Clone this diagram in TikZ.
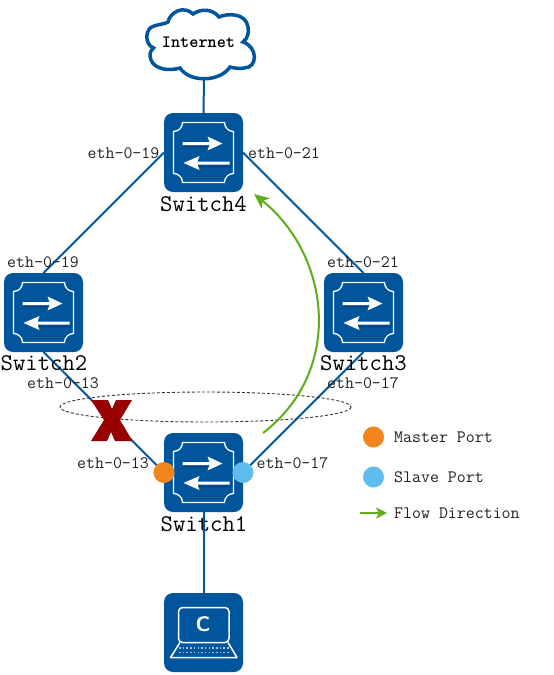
\documentclass[tikz,border=0pt]{standalone}
\usetikzlibrary{arrows.meta}
\definecolor{swblue}{HTML}{01559D}
\definecolor{swdark}{HTML}{0A4688}
\definecolor{flowgreen}{HTML}{5FAD1B}
\definecolor{mport}{HTML}{F2851D}
\definecolor{sport}{HTML}{5FBDEE}
\definecolor{xred}{HTML}{990000}
\definecolor{txt}{HTML}{222222}
\tikzset{
  x=1pt,y=-1pt,
  devbox/.style={fill=swblue,draw=none,rounded corners=9pt,minimum width=79pt,minimum height=79pt,inner sep=0pt,outer sep=0pt},
  link/.style={draw=swblue,line width=2pt},
  portlabel/.style={font=\ttfamily\fontsize{17.4}{20}\selectfont,text=txt,inner sep=0pt},
  swlabel/.style={font=\ttfamily\fontsize{24}{26}\selectfont,text=black,inner sep=0pt},
  legendlabel/.style={font=\ttfamily\fontsize{17.4}{20}\selectfont,text=txt,inner sep=0pt,anchor=west},
  portdot/.style={circle,minimum size=21pt,inner sep=0pt,outer sep=0pt},
  flow/.style={draw=flowgreen,line width=2pt,-{Stealth[length=15pt,width=13pt,inset=4pt]}},
  swicon/.pic={
    \draw[white,line width=1.3pt]
      (-21,-30) -- (21,-30) .. controls (21,-25) and (25,-21) .. (30,-21)
      -- (30,21) .. controls (25,21) and (21,25) .. (21,30)
      -- (-21,30) .. controls (-21,25) and (-25,21) .. (-30,21)
      -- (-30,-21) .. controls (-25,-21) and (-21,-25) .. (-21,-30) -- cycle;
    \fill[swdark] (-19,-7.5) rectangle (10,-4.5);
    \fill[swdark] (-5,12.5) rectangle (28,15.5);
    \fill[white] (-21,-10.5) -- (6,-10.5) -- (4,-16) -- (19,-9) -- (4,-2) -- (6,-7.5) -- (-21,-7.5) -- cycle;
    \fill[white] (26,9) -- (-6,9) -- (-4,3.5) -- (-20,10.5) -- (-4,17.5) -- (-6,12) -- (26,12) -- cycle;
  }
}
\begin{document}
\begin{tikzpicture}
\useasboundingbox (0,0) rectangle (554,675);
\fill[white] (0,0) rectangle (554,675);

% devices
\node[devbox] (s4) at (203.5,152.5) {};
\node[devbox] (s2) at (43.5,312.5) {};
\node[devbox] (s3) at (363.5,312.5) {};
\node[devbox] (s1) at (203.5,472.5) {};
\node[devbox] (pc) at (203.5,632.5) {};
\pic at (s4) {swicon};
\pic at (s2) {swicon};
\pic at (s3) {swicon};
\pic at (s1) {swicon};

% cloud
\coordinate (cloudb) at (204,79);
\draw[swblue,line width=3.5pt,fill=white]
  (153.5,48) .. controls (144,44) and (145,28) .. (154,26)
  .. controls (160,24) and (165,24) .. (168,22)
  .. controls (170,12) and (184,5) .. (193,14)
  .. controls (200,9) and (212,8) .. (219,17)
  .. controls (228,13) and (246,13) .. (248,27)
  .. controls (249,33) and (248,38) .. (243,42)
  .. controls (258,47) and (258,68) .. (244,68)
  .. controls (239,69) and (234,68) .. (230,67)
  .. controls (220,82) and (190,83) .. (180,68)
  .. controls (170,71) and (155,70) .. (151,60)
  .. controls (149,55) and (150,51) .. (153.5,48) -- cycle;
\node[font=\ttfamily\bfseries\fontsize{17.4}{20}\selectfont,inner sep=0pt] (inet) at (198.5,42) {Internet};

% connectors
\draw[link] (cloudb) -- (s4.north);
\draw[link] (s4.west) -- (s2.north);
\draw[link] (s4.east) -- (s3.north);
\draw[link] (s2.south) -- (s1.west);
\draw[link] (s3.south) -- (s1.east);

% labels
\node[portlabel] (l1) at (123.5,153) {eth-0-19};
\node[portlabel] (l2) at (284,153) {eth-0-21};
\node[portlabel] (l3) at (43,262) {eth-0-19};
\node[portlabel] (l4) at (363,262) {eth-0-21};
\node[portlabel] (l5) at (63,383) {eth-0-13};
\node[portlabel] (l6) at (363,383) {eth-0-17};
\node[portlabel] (l7) at (113,463) {eth-0-13};
\node[portlabel] (l8) at (292.5,463) {eth-0-17};
\node[swlabel] (n4) at (203.5,204) {Switch4};
\node[swlabel] (n2) at (44,363) {Switch2};
\node[swlabel] (n3) at (363.5,363) {Switch3};
\node[swlabel] (n1) at (204,524) {Switch1};

\draw[link] (s1.south) -- (pc.north);

% ring
\draw[densely dashed,line width=0.9pt,draw=black!80] (205.5,407) ellipse [x radius=145.5,y radius=15];

% failed link mark
\fill[xred] (91,400) -- (108,400) -- (112,409) -- (116,400) -- (132,400)
  -- (120,420) -- (132.5,441) -- (115,441) -- (111,432) -- (107,441) -- (91,441) -- (104,420) -- cycle;

% ports
\node[portdot,fill=mport] (pm) at (s1.west) {};
\node[portdot,fill=sport] (ps) at (s1.east) {};

% PC icon
\draw[white,line width=1.5pt,rounded corners=4pt] (178.5,607.5) rectangle (229,642.5);
\draw[white,line width=1.5pt,line join=round] (180,642.5) -- (170.5,657.5) -- (237,657.5) -- (228,642.5);
\foreach \yy in {648,652.5}{
  \draw[white!65!swblue,line width=1.3pt,dash pattern=on 1.5pt off 2.2pt] (179,\yy) -- (229,\yy);
}
\node[font=\sffamily\bfseries\fontsize{21}{22}\selectfont,text=white,inner sep=0pt] (pcc) at (203,624.5) {C};

% flow arrow
\coordinate (fa) at (263,433);
\coordinate (fb) at (254,194);
\draw[flow] (fa) .. controls (345,370) and (330,255) .. (fb);

% legend
\node[portdot,fill=mport] (lm) at (373.5,437) {};
\node[portdot,fill=sport] (ls) at (373.5,477) {};
\coordinate (la) at (360,513);
\coordinate (lb) at (387,513);
\draw[draw=flowgreen,line width=2pt,-{Stealth[length=11pt,width=11pt,inset=3pt]}] (la) -- (lb);
\node[legendlabel] (t1) at (394,437) {Master Port};
\node[legendlabel] (t2) at (394,477) {Slave Port};
\node[legendlabel] (t3) at (394,513) {Flow Direction};
\end{tikzpicture}
\end{document}
